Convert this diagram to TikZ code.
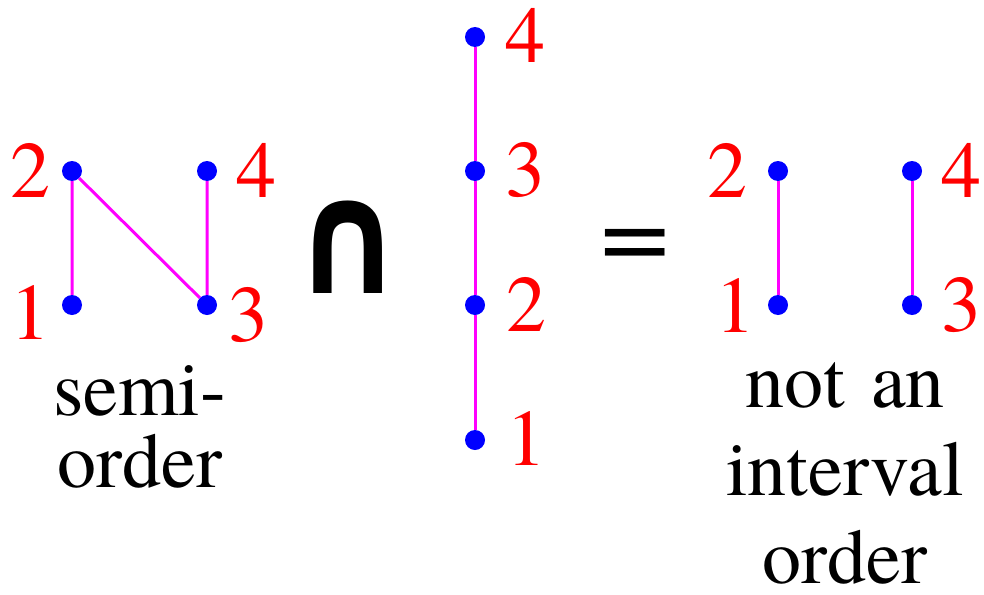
\documentclass[tikz,border=0pt]{standalone}
\usepackage{fontspec}
\setmainfont{texgyretermes}[Extension=.otf, UprightFont=*-regular, BoldFont=*-bold]
\newfontfamily\timesfont{texgyretermes}[Extension=.otf, UprightFont=*-regular]
\newfontfamily\symfont{DejaVu Sans}
\usetikzlibrary{positioning}
\definecolor{edgemag}{RGB}{255,0,255}
\definecolor{dotblue}{RGB}{0,0,255}
\definecolor{labred}{RGB}{255,0,0}
\tikzset{
  vtx/.style={circle, fill=dotblue, minimum size=20pt, inner sep=0pt},
  cover/.style={edgemag, line width=3pt},
  lab/.style={labred, inner sep=0pt, font=\timesfont\fontsize{80}{80}\selectfont},
  caption/.style={black, inner sep=0pt, align=center, text width=300pt}
}

\begin{document}
\begin{tikzpicture}[x=1pt, y=-1pt]
  \useasboundingbox (0,0) rectangle (984,594);

  % Semiorder (the N poset)
  \node[vtx] (n1) at (72,305) {};
  \node[vtx] (n2) at (72,171) {};
  \node[vtx] (n3) at (207,305) {};
  \node[vtx] (n4) at (207,171) {};
  \draw[cover] (n1) -- (n2) -- (n3) -- (n4);
  \node[lab] at (30,312) {1};
  \node[lab] at (30,170) {2};
  \node[lab] at (248,315) {3};
  \node[lab] at (256,170) {4};
  \node[caption, anchor=base, font=\timesfont\fontsize{78}{72}\selectfont] (capN) at (140,415) {semi-\\order};

  % Intersection sign
  \node[inner sep=0pt, font=\symfont\bfseries\fontsize{115}{115}\selectfont] (cap) at (348,247) {\scalebox{1.17}[1.39]{∩}};

  % Chain 1 < 2 < 3 < 4
  \foreach \i/\y in {1/440, 2/305, 3/171, 4/37} {
    \node[vtx] (c\i) at (475,\y) {};
  }
  \draw[cover] (c1) -- (c2) -- (c3) -- (c4);
  \node[lab] at (526,438) {1};
  \node[lab] at (526,304) {2};
  \node[lab] at (525,170) {3};
  \node[lab] at (525,35) {4};

  % Equals sign
  \node[inner sep=0pt, anchor=base, font=\timesfont\fontsize{115}{115}\selectfont] (eq) at (635,271) {\scalebox{1.07}[1]{=}};

  % Result: two disjoint chains
  \node[vtx] (r1) at (778,305) {};
  \node[vtx] (r2) at (778,171) {};
  \node[vtx] (r3) at (912,305) {};
  \node[vtx] (r4) at (912,171) {};
  \draw[cover] (r1) -- (r2);
  \draw[cover] (r3) -- (r4);
  \node[lab] at (735,305) {1};
  \node[lab] at (727,170) {2};
  \node[lab] at (961,305) {3};
  \node[lab] at (961,170) {4};
  \node[caption, anchor=base, font=\timesfont\fontsize{78}{88}\selectfont] (capR) at (845,407) {not an\\interval\\order};
\end{tikzpicture}
\end{document}
